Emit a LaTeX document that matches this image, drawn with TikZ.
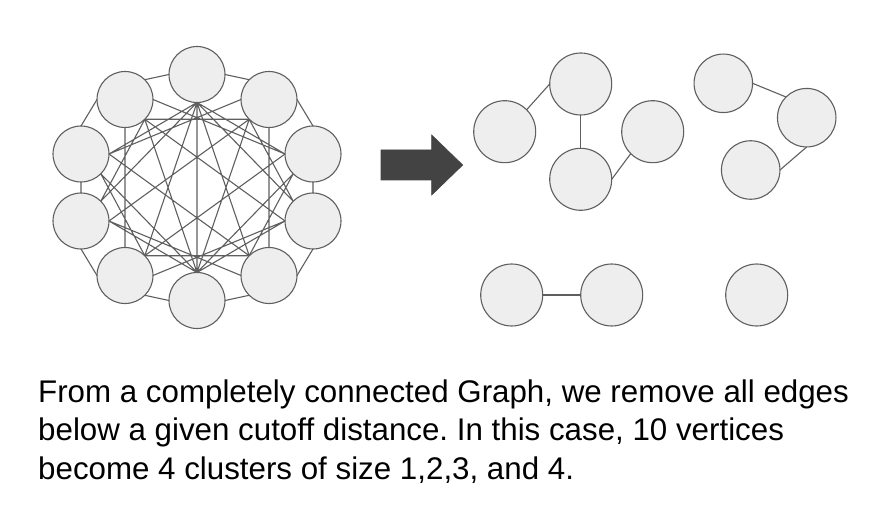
\documentclass[tikz,border=0pt]{standalone}
\usepackage{fontspec}
\setmainfont{Liberation Sans}
\frenchspacing
\definecolor{cfill}{HTML}{EEEEEE}
\definecolor{cline}{HTML}{5F5F5F}
\definecolor{carrow}{HTML}{434343}
\begin{document}
\begin{tikzpicture}[x=1pt,y=-1pt,
  vtx/.style={circle,draw=cline,fill=cfill,line width=1.1pt,inner sep=0pt,outer sep=0pt,minimum size=56pt},
  bvtx/.style={vtx,minimum size=62pt},
  mvtx/.style={vtx,minimum size=58.5pt},
  edge/.style={draw=cline,line width=1.1pt},
  bigarrow/.style={draw=carrow,fill=carrow,line width=0.6pt,line join=miter}]
\useasboundingbox (0,0) rectangle (880,521);
% left complete graph
\def\cx{197}\def\cy{187.5}
\node[vtx] (T)  at (\cx,\cy-113) {};
\node[vtx] (Bo) at (\cx,\cy+113) {};
\node[vtx] (UL) at (\cx-72,\cy-88) {};
\node[vtx] (UR) at (\cx+72,\cy-88) {};
\node[vtx] (BL) at (\cx-72,\cy+88) {};
\node[vtx] (BR) at (\cx+72,\cy+88) {};
\node[vtx] (LU) at (\cx-116,\cy-33.5) {};
\node[vtx] (RU) at (\cx+116,\cy-33.5) {};
\node[vtx] (LL) at (\cx-116,\cy+33.5) {};
\node[vtx] (RL) at (\cx+116,\cy+33.5) {};
\path[edge]
 % outer cycle
 (T.west) -- (UL.north east) (T.east) -- (UR.north west)
 (UL.west) -- (LU.north) (UR.east) -- (RU.north)
 (LU.south) -- (LL.north) (RU.south) -- (RL.north)
 (LL.south) -- (BL.west) (RL.south) -- (BR.east)
 (BL.south east) -- (Bo.west) (BR.south west) -- (Bo.east)
 % square and centre
 (UL.south east) -- (UR.south west) (BL.north east) -- (BR.north west)
 (UL.south) -- (BL.north) (UR.south) -- (BR.north)
 (T.south) -- (Bo.north)
 % cross links
 (UL.east) -- (RU.west) (UR.west) -- (LU.east)
 (BL.east) -- (RL.west) (BR.west) -- (LL.east)
 (T.south) -- (LU.east) (T.south) -- (RU.west)
 (Bo.north) -- (LL.east) (Bo.north) -- (RL.west)
 (UR.south west) -- (LL.east) (UL.south east) -- (RL.west)
 (BR.north west) -- (LU.east) (BL.north east) -- (RU.west)
 (T.south) -- (LL.north east) (T.south) -- (RL.north west)
 (Bo.north) -- (LU.south east) (Bo.north) -- (RU.south west)
 (UL.south east) -- (Bo.north) (UR.south west) -- (Bo.north)
 (BL.north east) -- (T.south) (BR.north west) -- (T.south)
 (UL.south east) -- (LL.north east) (UR.south west) -- (RL.north west)
 (BL.north east) -- (LU.south east) (BR.north west) -- (RU.south west);
% arrow
\path[bigarrow] (381,150) -- (431.7,150) -- (431.7,135) -- (462.7,165) -- (431.7,195) -- (431.7,180) -- (381,180) -- cycle;
% right clusters
\node[bvtx] (N1) at (504.7,131.7) {};
\node[bvtx] (N2) at (580.7,84) {};
\node[bvtx] (N3) at (580.7,179.3) {};
\node[bvtx] (N4) at (652.7,131.7) {};
\draw[edge] (N1.north east) -- (N2.west);
\draw[edge] (N2.south) -- (N3.north);
\draw[edge] (N3.east) -- (N4.south west);
\node[mvtx] (M1) at (723.3,83.3) {};
\node[mvtx] (M2) at (806.7,117.7) {};
\node[mvtx] (M3) at (750.7,170) {};
\draw[edge] (M1.east) -- (M2.north west);
\draw[edge] (M2.south) -- (M3.east);
\node[bvtx] (P1) at (511.7,295) {};
\node[bvtx] (P2) at (611.7,295) {};
\draw[edge] (P1.east) -- (P2.west);
\node[bvtx] (Q) at (756.7,295) {};
% caption
\node[anchor=base west,align=left,inner sep=0pt,font=\fontsize{31.3}{38.5}\selectfont] (cap) at (38,479)
 {From a completely connected Graph, we remove all edges\\below a given cutoff distance. In this case, 10 vertices\\become 4 clusters of size 1,2,3, and 4.};
\end{tikzpicture}
\end{document}
